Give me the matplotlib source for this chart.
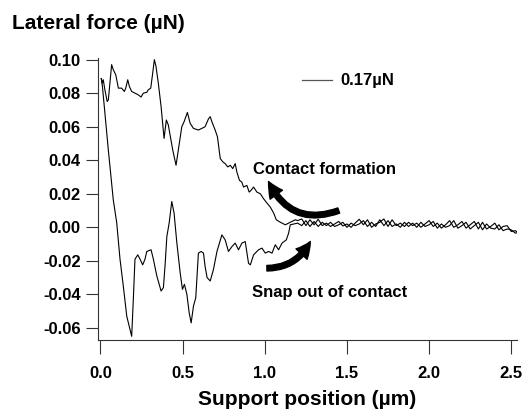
import matplotlib
matplotlib.use("Agg")
import matplotlib.pyplot as plt

plt.rcParams["font.family"] = ["Liberation Sans", "DejaVu Sans"]
plt.rcParams["font.weight"] = "bold"

# Approach trace (contact formation), drift region up to ~1.2 um
approach_x = [0.005, 0.011, 0.017, 0.027, 0.041, 0.048, 0.068, 0.078, 0.093, 0.109,
              0.129, 0.145, 0.154, 0.166, 0.176, 0.190, 0.210, 0.230, 0.247, 0.261,
              0.282, 0.291, 0.306, 0.318, 0.328, 0.338, 0.352, 0.369, 0.387, 0.401,
              0.413, 0.440, 0.460, 0.495, 0.509, 0.529, 0.546, 0.566, 0.596, 0.617,
              0.637, 0.657, 0.668, 0.678, 0.698, 0.712, 0.729, 0.745, 0.759, 0.775,
              0.790, 0.805, 0.820, 0.830, 0.846, 0.860, 0.871, 0.891, 0.905, 0.916,
              0.932, 0.952, 0.973, 0.993, 1.013, 1.034, 1.054, 1.070, 1.095, 1.125,
              1.155, 1.186,
              1.200, 1.225, 1.250, 1.275, 1.300, 1.325, 1.350, 1.375, 1.400, 1.425,
              1.450, 1.475, 1.500, 1.525, 1.550, 1.575, 1.600, 1.625, 1.650, 1.675,
              1.700, 1.725, 1.750, 1.775, 1.800, 1.825, 1.850, 1.875, 1.900, 1.925,
              1.950, 1.975, 2.000, 2.025, 2.050, 2.075, 2.100, 2.125, 2.150, 2.175,
              2.200, 2.225, 2.250, 2.275, 2.300, 2.325, 2.350, 2.375, 2.400, 2.425,
              2.450, 2.475, 2.500, 2.525, 2.545]
approach_y = [0.0887, 0.086, 0.088, 0.082, 0.075, 0.076, 0.097, 0.094, 0.091, 0.083,
              0.083, 0.081, 0.083, 0.088, 0.084, 0.081, 0.080, 0.079, 0.0777, 0.080,
              0.0805, 0.082, 0.083, 0.092, 0.100, 0.096, 0.086, 0.072, 0.053, 0.064,
              0.061, 0.046, 0.037, 0.060, 0.063, 0.0685, 0.062, 0.059, 0.058, 0.059,
              0.060, 0.0646, 0.066, 0.063, 0.058, 0.054, 0.041, 0.039, 0.038, 0.036,
              0.037, 0.035, 0.038, 0.033, 0.028, 0.027, 0.024, 0.025, 0.021, 0.022,
              0.024, 0.021, 0.020, 0.017, 0.0145, 0.012, 0.0085, 0.0045, 0.003, 0.0015,
              0.003, 0.0045,
              0.0040, 0.0050, 0.0010, 0.0045, 0.0015, 0.0048, 0.0010, 0.0025, 0.0005, 0.0020,
              0.0035, 0.0008, 0.0020, 0.0000, 0.0025, 0.0048, 0.0015, 0.0045, 0.0000, 0.0020,
              0.0030, 0.0050, 0.0005, 0.0045, 0.0010, 0.0025, 0.0005, 0.0030, 0.0010, 0.0025,
              0.0000, 0.0020, 0.0040, 0.0005, 0.0025, -0.0005, 0.0015, 0.0040, 0.0000, 0.0015,
              0.0035, -0.0005, 0.0015, 0.0035, -0.0010, 0.0030, -0.0010, 0.0005, 0.0025, -0.0015,
              0.0005, 0.0010, -0.0025, -0.0020, -0.0035]

# Retract trace (snap out of contact)
retract_x = [0.005, 0.012, 0.048, 0.078, 0.099, 0.119, 0.139, 0.160, 0.190, 0.200,
             0.210, 0.227, 0.241, 0.257, 0.271, 0.282, 0.308, 0.322, 0.343, 0.369,
             0.383, 0.393, 0.404, 0.418, 0.434, 0.448, 0.465, 0.485, 0.499, 0.511,
             0.526, 0.540, 0.552, 0.566, 0.580, 0.596, 0.613, 0.627, 0.637, 0.649,
             0.668, 0.688, 0.709, 0.739, 0.759, 0.779, 0.800, 0.820, 0.840, 0.861,
             0.881, 0.901, 0.912, 0.932, 0.962, 0.983, 1.003, 1.023, 1.044, 1.064,
             1.084, 1.105, 1.131, 1.145, 1.155,
             1.200, 1.225, 1.250, 1.275, 1.300, 1.325, 1.350, 1.375, 1.400, 1.425,
             1.450, 1.475, 1.500, 1.525, 1.550, 1.575, 1.600, 1.625, 1.650, 1.675,
             1.700, 1.725, 1.750, 1.775, 1.800, 1.825, 1.850, 1.875, 1.900, 1.925,
             1.950, 1.975, 2.000, 2.025, 2.050, 2.075, 2.100, 2.125, 2.150, 2.175,
             2.200, 2.225, 2.250, 2.275, 2.300, 2.325, 2.350, 2.375, 2.400, 2.425,
             2.450, 2.475, 2.500, 2.525, 2.545]
retract_y = [0.0887, 0.084, 0.046, 0.0164, 0.0027, -0.019, -0.035, -0.053, -0.065, -0.043,
             -0.019, -0.0164, -0.019, -0.0224, -0.019, -0.0144, -0.0134, -0.019, -0.029, -0.038,
             -0.036, -0.023, -0.0055, 0.0025, 0.0154, 0.0085, -0.0094, -0.027, -0.037, -0.034,
             -0.040, -0.051, -0.057, -0.047, -0.042, -0.0154, -0.0144, -0.0154, -0.0234, -0.030,
             -0.032, -0.025, -0.0144, -0.0045, -0.0075, -0.0144, -0.0115, -0.0094, -0.0134, -0.0094,
             -0.0085, -0.0214, -0.0224, -0.0164, -0.0134, -0.0124, -0.0154, -0.0144, -0.0154, -0.0104,
             -0.0134, -0.0094, -0.0075, -0.0035, 0.0015,
             0.0025, 0.0010, 0.0040, 0.0005, 0.0035, 0.0005, 0.0030, 0.0010, 0.0030, 0.0005,
             0.0015, 0.0030, 0.0000, 0.0025, 0.0010, 0.0020, 0.0040, 0.0005, 0.0030, 0.0005,
             0.0045, 0.0010, 0.0040, 0.0005, 0.0020, 0.0000, 0.0030, 0.0005, 0.0025, 0.0000,
             0.0030, 0.0005, 0.0015, 0.0035, -0.0005, 0.0020, 0.0000, 0.0010, 0.0040, -0.0005,
             0.0010, 0.0030, -0.0010, 0.0010, 0.0030, -0.0015, 0.0020, -0.0005, -0.0010, 0.0015,
             -0.0020, -0.0010, -0.0015, -0.0035, -0.0030]

x_ticks = [0.0, 0.5, 1.0, 1.5, 2.0, 2.5]
y_ticks = [-0.06, -0.04, -0.02, 0.00, 0.02, 0.04, 0.06, 0.08, 0.10]

fig = plt.figure(figsize=(5.26, 4.16), dpi=100)
ax = fig.add_axes([0.1863, 0.1827, 0.7966, 0.678])

ax.plot(approach_x, approach_y, color="black", lw=0.8)
ax.plot(retract_x, retract_y, color="black", lw=0.8)

ax.set_xlim(-0.015, 2.535)
ax.set_ylim(-0.0672, 0.101)
ax.set_xticks(x_ticks)
ax.set_xticklabels([f"{v:.1f}" for v in x_ticks])
ax.set_yticks(y_ticks)
ax.set_yticklabels([f"{v:.2f}" for v in y_ticks])
ax.tick_params(axis="x", direction="out", length=10, width=0.8, pad=8.5, labelsize=12)
ax.tick_params(axis="y", direction="out", length=8.5, width=0.8, pad=4, labelsize=12)
for s in ["top", "right"]:
    ax.spines[s].set_visible(False)
for s in ["left", "bottom"]:
    ax.spines[s].set_linewidth(0.8)
    ax.spines[s].set_color("#333333")
ax.tick_params(colors="#333333", labelcolor="black")

# axis titles
fig.text(12 / 526, 1 - 29 / 416, "Lateral force (µN)", fontsize=15, fontweight="bold",
         ha="left", va="baseline")
ax.set_xlabel("Support position (µm)", fontsize=15, fontweight="bold", labelpad=7)

# legend-like key
ax.plot([1.225, 1.408], [0.0877, 0.0877], color="#555555", lw=0.9)
ax.text(1.46, 0.0877, "0.17µN", fontsize=12, fontweight="bold", va="center", ha="left")

# annotations
ax.annotate("", xy=(1.023, 0.0273), xytext=(1.450, 0.0100),
            arrowprops=dict(arrowstyle="simple,head_length=1.1,head_width=1.1,tail_width=0.4",
                            connectionstyle="arc3,rad=-0.45", fc="black", ec="black",
                            shrinkA=0, shrinkB=0), )
ax.annotate("", xy=(1.277, -0.0085), xytext=(1.013, -0.0244),
            arrowprops=dict(arrowstyle="simple,head_length=1.1,head_width=1.1,tail_width=0.4",
                            connectionstyle="arc3,rad=0.3", fc="black", ec="black",
                            shrinkA=0, shrinkB=0), )
ax.text(0.926, 0.0315, "Contact formation", fontsize=12, fontweight="bold",
        ha="left", va="baseline")
ax.text(0.920, -0.0413, "Snap out of contact", fontsize=12, fontweight="bold",
        ha="left", va="baseline")

fig.savefig("out.png", dpi=100)
